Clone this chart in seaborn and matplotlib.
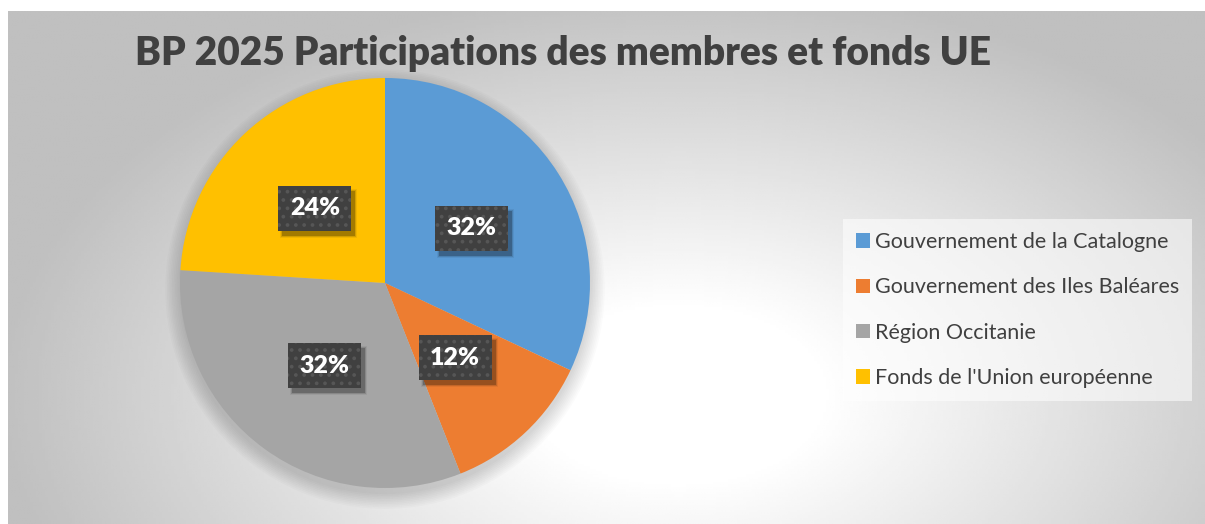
import numpy as np
import matplotlib.pyplot as plt
from matplotlib.patches import Circle, Rectangle
import seaborn as sns

sns.set_theme(style="white")
plt.rcParams['font.family'] = ['Lato', 'DejaVu Sans']
plt.rcParams['hatch.linewidth'] = 1.5

categories = ["Gouvernement de la Catalogne", "Gouvernement des Iles Baléares",
              "Région Occitanie", "Fonds de l'Union européenne"]
shares = [32, 12, 32, 24]
colors = ["#5B9BD5", "#ED7D31", "#A5A5A5", "#FFC000"]
title = "BP 2025 Participations des membres et fonds UE"

W, H = 1205, 524
fig = plt.figure(figsize=(W / 100, H / 100), dpi=100)
fig.patch.set_facecolor("white")

# background: radial grey gradient inside the chart area
x0, y0 = 8, 11
bg = fig.add_axes([x0 / W, 0, 1 - x0 / W, 1 - y0 / H], zorder=0)
gx, gy = np.meshgrid(np.linspace(0, 1, 400), np.linspace(0, 1, 200))
r = np.sqrt(((gx - 0.56) / 0.6) ** 2 + ((gy - 0.75) / 0.85) ** 2)
v = np.clip((r - 0.2) / 0.75, 0, 1)
shade = 1.0 - v * (1 - 0.75)
bg.imshow(shade, cmap="gray", vmin=0, vmax=1, aspect="auto",
          extent=[0, 1, 0, 1], origin="upper", interpolation="bilinear")
bg.set_axis_off()

# pie
cx, cy, rad = 385, 283, 205
ax = fig.add_axes([(cx - rad * 1.1) / W, (H - cy - rad * 1.1) / H, 2.2 * rad / W, 2.2 * rad / H], zorder=1)
for k in range(10):
    ax.add_patch(Circle((0.0, -0.03), 1.0 + 0.008 * k, color="black", alpha=0.014, lw=0, zorder=0))
wedges, texts, autotexts = ax.pie(shares, colors=colors, startangle=90, counterclock=False,
                                  autopct="%1.0f%%", pctdistance=0.5,
                                  wedgeprops=dict(linewidth=0),
                                  textprops=dict(color="white", fontsize=18, fontweight="heavy"))
for w in wedges:
    w.set_zorder(2)
for t in autotexts:
    t.set_zorder(5)
    t.set_bbox(dict(boxstyle="square,pad=0.46", fc="#404040", ec="#565656", lw=0, hatch=".."))
ax.set_xlim(-1.1, 1.1)
ax.set_ylim(-1.1, 1.1)
ax.set_aspect("equal")
ax.set_axis_off()

# soft shadow under the label boxes
fig.canvas.draw()
for t in autotexts:
    bb = t.get_bbox_patch().get_window_extent()
    for k, a in enumerate([0.22, 0.12, 0.06]):
        ax.add_patch(Rectangle((bb.x0 + 4 - k, bb.y0 - 5 - k), bb.width + 2 * k, bb.height + 2 * k,
                               transform=None, fc="black", alpha=a, lw=0, zorder=4))

# title
fig.text(563 / W, 1 - 54 / H, title, ha="center", va="center", fontsize=28,
         fontweight="heavy", color="#404040")

# legend
leg = fig.legend(wedges, categories, loc="center left", bbox_to_anchor=(843 / W, 1 - 310 / H),
                 frameon=True, fontsize=15.5, labelcolor="#404040", handlelength=0.65,
                 handleheight=0.65, handletextpad=0.25, labelspacing=1.18, borderpad=0.6,
                 borderaxespad=0, fancybox=False)
leg.get_frame().set_facecolor("white")
leg.get_frame().set_alpha(0.55)
leg.get_frame().set_linewidth(0)

fig.savefig("out.png", dpi=100, facecolor="white")
